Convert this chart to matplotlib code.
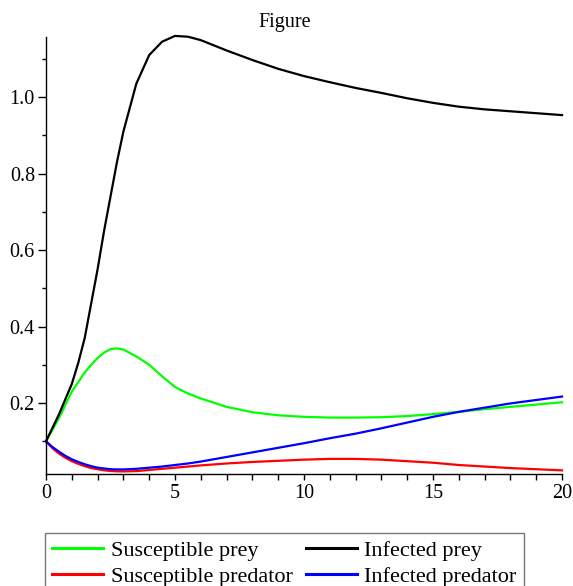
import matplotlib
matplotlib.use("Agg")
import matplotlib.pyplot as plt
from matplotlib.ticker import MultipleLocator, FixedLocator

plt.rcParams['font.family'] = ['Liberation Serif', 'DejaVu Serif']

t = [0, 0.25, 0.5, 0.75, 1.0, 1.25, 1.5, 1.75, 2.0, 2.25, 2.5, 2.75, 3.0,
     3.5, 4.0, 4.5, 5.0, 5.5, 6.0, 7.0, 8.0, 9.0, 10.0, 11.0, 12.0, 13.0,
     14.0, 15.0, 16.0, 17.0, 18.0, 19.0, 20.0]

infected_prey = [0.10, 0.135, 0.17, 0.21, 0.25, 0.305, 0.37, 0.46, 0.55, 0.65,
                 0.74, 0.83, 0.91, 1.035, 1.11, 1.145, 1.16, 1.158, 1.149,
                 1.122, 1.097, 1.074, 1.055, 1.039, 1.024, 1.011, 0.997, 0.985,
                 0.975, 0.968, 0.963, 0.958, 0.953]

susceptible_prey = [0.10, 0.13, 0.16, 0.195, 0.23, 0.255, 0.28, 0.30, 0.318,
                    0.332, 0.341, 0.343, 0.34, 0.322, 0.30, 0.27, 0.242, 0.225,
                    0.212, 0.19, 0.176, 0.168, 0.164, 0.162, 0.162, 0.163,
                    0.166, 0.171, 0.177, 0.184, 0.19, 0.196, 0.202]

infected_predator = [0.10, 0.085, 0.073, 0.062, 0.053, 0.046, 0.04, 0.035,
                     0.031, 0.029, 0.027, 0.0265, 0.0265, 0.028, 0.031, 0.034,
                     0.038, 0.042, 0.047, 0.059, 0.071, 0.083, 0.095, 0.108,
                     0.12, 0.134, 0.149, 0.164, 0.177, 0.188, 0.199, 0.208,
                     0.217]

susceptible_predator = [0.10, 0.082, 0.068, 0.057, 0.048, 0.041, 0.035, 0.03,
                        0.027, 0.024, 0.0225, 0.0215, 0.0213, 0.022, 0.025,
                        0.028, 0.031, 0.034, 0.037, 0.042, 0.046, 0.049, 0.052,
                        0.054, 0.054, 0.052, 0.048, 0.044, 0.038, 0.034, 0.03,
                        0.027, 0.024]

x_ticks = [0, 5, 10, 15, 20]
y_ticks = [0.2, 0.4, 0.6, 0.8, 1.0]
y_tick_labels = ["0.2", "0.4", "0.6", "0.8", "1.0"]

W, H = 573, 586
fig = plt.figure(figsize=(W / 100, H / 100), dpi=100)
ax = fig.add_axes([46 / W, 1 - 474 / H, (562 - 46) / W, (474 - 36.7) / H])

lw = 1.6
l1, = ax.plot(t, susceptible_prey, color='#00ff00', lw=lw, clip_on=False)
l2, = ax.plot(t, infected_prey, color='black', lw=lw, clip_on=False)
l3, = ax.plot(t, susceptible_predator, color='#ff0000', lw=lw, clip_on=False)
l4, = ax.plot(t, infected_predator, color='#0000ff', lw=lw, clip_on=False)

ax.set_xlim(0, 20)
ax.set_ylim(0.0145, 1.158)

for s in ['top', 'right']:
    ax.spines[s].set_visible(False)
for s in ['left', 'bottom']:
    ax.spines[s].set_linewidth(1.0)
    ax.spines[s].set_color('black')

ax.xaxis.set_major_locator(FixedLocator(x_ticks))
ax.xaxis.set_minor_locator(MultipleLocator(1))
ax.set_xticklabels([str(v) for v in x_ticks])
ax.yaxis.set_major_locator(FixedLocator(y_ticks))
ax.set_yticklabels(y_tick_labels)
ax.yaxis.set_minor_locator(FixedLocator([0.1, 0.3, 0.5, 0.7, 0.9, 1.1]))

ax.tick_params(axis='x', which='both', direction='out', length=4, width=1,
               labelsize=14.5, pad=3)
ax.tick_params(axis='y', which='major', direction='out', length=6, width=1,
               labelsize=14.5, pad=2)
ax.tick_params(axis='y', which='minor', direction='out', length=3, width=1)

fig.text(284.5 / W, 1 - 23 / H, "Figure", ha='center', va='center', fontsize=14.5)

leg = fig.legend([l1, l3, l2, l4],
                 ["Susceptible prey", "Susceptible predator",
                  "Infected prey", "Infected predator"],
                 ncol=2, loc='upper left',
                 bbox_to_anchor=(45 / W, 1 - 532.7 / H),
                 borderaxespad=0, fontsize=16, frameon=True, fancybox=False,
                 edgecolor='#555555', handlelength=2.3, handletextpad=0.33,
                 columnspacing=0.6, labelspacing=0.25, borderpad=0.33)
leg.get_frame().set_linewidth(1.0)
for line in leg.get_lines():
    line.set_linewidth(2.2)

fig.savefig("out.png", dpi=100)
